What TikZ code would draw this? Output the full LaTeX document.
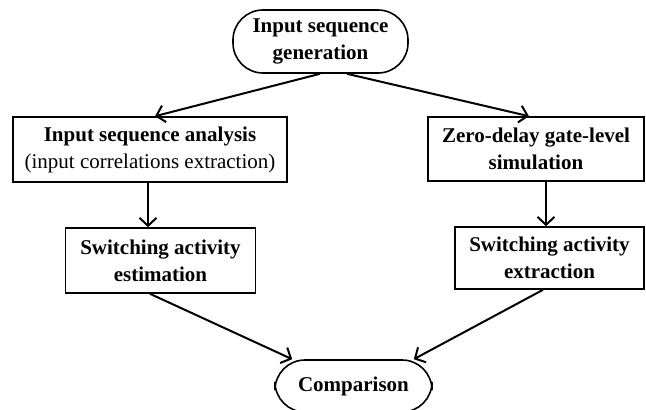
\documentclass[tikz,border=0pt]{standalone}
\usepackage{fontspec}
\setmainfont{Liberation Serif}
\usepackage{tikz}
\usetikzlibrary{arrows.meta,calc,positioning}

\begin{document}
\begin{tikzpicture}[x=1pt,y=-1pt,
  every node/.style={font=\fontsize{21}{27}\selectfont\bfseries},
  box/.style={draw,line width=1.6pt,align=center,inner sep=0pt,minimum height=65pt},
  term/.style={draw,line width=1.6pt,align=center,inner sep=0pt,rounded corners=30pt},
  arr/.style={line width=2pt,-{Straight Barb[length=8pt,width=17pt]}}]
\clip (0,0) rectangle (646,410);
\node[term,minimum width=175pt,minimum height=63pt] (gen) at (320.5,41.5) {Input sequence\\generation};
\node[box,minimum width=274pt] (ana) at (150,149.5) {Input sequence analysis\\{\mdseries (input correlations extraction)}};
\node[box,minimum width=216pt,minimum height=64pt] (sim) at (536,149) {Zero-delay gate-level\\simulation};
\node[box,minimum width=190pt] (est) at (160.5,260.5) {Switching activity\\estimation};
\node[box,minimum width=189pt,minimum height=62pt] (ext) at (549.5,258) {Switching activity\\extraction};
\node[term,minimum width=157pt,minimum height=52pt] (cmp) at (353.5,386) {Comparison};
% flow
\draw[arr] ($(gen.south)+(-0.5,0)$) -- ($(ana.north)+(5,0)$);
\draw[arr] ($(gen.south)+(26.5,0)$) -- ($(sim.north)+(-7,0)$);
\draw[arr] ($(ana.south)+(-2,0)$) -- ($(est.north)+(-12.5,0)$);
\draw[arr] ($(sim.south)+(10,0)$) -- ($(ext.north)+(-3.5,0)$);
\draw[arr] ($(est.south)+(-10.5,0)$) -- ($(cmp.north west)+(18,0)$);
\draw[arr] ($(ext.south)+(-6.5,0)$) -- ($(cmp.north east)+(-19,0)$);
\end{tikzpicture}
\end{document}
